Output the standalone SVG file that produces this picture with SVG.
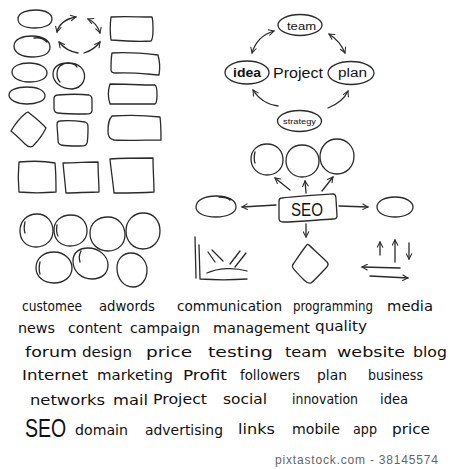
<svg xmlns="http://www.w3.org/2000/svg" width="450" height="469" viewBox="0 0 450 469">
<defs>
<style>
.s{fill:none;stroke:#2a2a2a;stroke-width:1.3;stroke-linecap:round;stroke-linejoin:round}
.w{font-family:"DejaVu Sans","Liberation Sans",sans-serif;font-size:14px;fill:#111}
.l{font-family:"Liberation Sans","DejaVu Sans",sans-serif;fill:#111}
.ft{font-family:"Liberation Sans","DejaVu Sans",sans-serif;font-size:12px;fill:#666}
</style>
<marker id="ah" viewBox="0 0 8 8" refX="7" refY="4" markerWidth="7" markerHeight="7" orient="auto-start-reverse" markerUnits="userSpaceOnUse">
<path d="M1,0.8 L7,4 L1,7.2" fill="none" stroke="#2a2a2a" stroke-width="1.2" stroke-linecap="round"/>
</marker>
</defs>
<rect width="450" height="469" fill="#fff"/>

<!-- left shapes -->
<g id="ellipse1"><path class="s" d="M18,19 C18,12 28,10 36,10 C46,10 52,14 52,19 C52,25 44,28 35,28 C25,28 18,25 18,19 Z"/></g>
<g id="ellipse2"><path class="s" d="M14,46 C14,39 23,36 32,36 C42,36 50,40 50,47 C50,54 42,57 32,57 C22,57 14,53 14,46 Z M34,38 C40,37 45,40 47,42"/></g>
<g id="ellipse3"><path class="s" d="M12,72 C12,66 20,63 29,63 C39,63 47,67 47,73 C47,79 39,82 29,82 C20,82 12,78 12,72 Z"/></g>
<g id="ellipse4"><path class="s" d="M9,95 C9,90 17,87 27,87 C37,87 45,90 45,96 C45,101 36,104 27,104 C17,104 9,100 9,95 Z"/></g>
<g id="diamond1"><path class="s" d="M28,112 C33,116 41,122 46,128 C43,134 38,141 33,146 C30,148 28,147 25,144 C20,139 15,134 11,131 C15,124 21,117 26,113 Z"/></g>
<g id="rect1"><path class="s" d="M19,162 C30,161 45,161 55,163 C56,172 56,183 56,192 C44,193 30,193 19,192 C18,182 18,172 19,162 Z"/></g>

<g id="circle-double"><path class="s" d="M60,66 C66,61 78,62 83,70 C87,78 83,88 72,89 C61,89 53,82 53,74 C53,67 59,63 67,63 C72,63 76,65 77,67 M60,66 C56,70 56,78 60,82"/></g>
<g id="roundrect1"><path class="s" d="M58,95 C70,94 80,94 89,95 C92,96 92,98 92,101 L92,111 C91,114 89,114 86,114 C76,114 66,114 58,113 C55,113 54,111 54,108 L54,99 C54,96 56,95 58,95 Z"/></g>
<g id="roundsq1"><path class="s" d="M60,121 C68,120 78,121 85,122 C88,123 88,125 88,128 C88,133 88,139 87,143 C86,146 84,146 80,146 C73,146 66,146 61,145 C58,144 58,142 58,139 L57,125 C57,122 58,121 60,121 Z"/></g>
<g id="quad1"><path class="s" d="M63,163 C75,163 88,162 98,162 C98,172 99,183 99,192 C88,192 76,193 66,193 C65,183 64,173 63,163 Z"/></g>

<g id="rect2"><path class="s" d="M111,17 C124,16 138,17 152,17 C153,20 153,25 153,30 C153,35 153,39 151,41 C138,42 124,41 111,40 C110,33 110,25 111,17 Z"/></g>
<g id="rect3"><path class="s" d="M112,53 C126,52 141,53 158,55 C160,62 160,69 159,75 C146,74 132,72 116,73 C112,73 111,72 111,70 C111,64 111,58 112,53 Z"/></g>
<g id="rect4"><path class="s" d="M110,84 C124,84 140,85 155,85 C157,86 157,90 157,95 C157,100 157,103 155,104 C141,104 125,104 110,104 C108,98 108,90 110,84 Z"/></g>
<g id="rect5"><path class="s" d="M112,116 C127,115 143,115 160,117 C161,124 161,132 161,140 C145,140 128,141 114,140 C109,139 108,136 108,132 C108,126 108,120 112,116 Z"/></g>
<g id="rect6"><path class="s" d="M110,159 C124,158 140,158 153,158 C153,170 154,181 154,192 C141,193 127,193 114,193 C113,182 111,170 110,159 Z"/></g>

<!-- bottom-left circles -->
<g id="circle-a"><path class="s" d="M20,231 C20,221 27,214 37,214 C47,214 53,222 53,231 C53,240 46,247 36,247 C26,247 20,240 20,231 Z M25,222 C24,226 24,230 25,233"/></g>
<g id="circle-b"><path class="s" d="M54,230 C54,221 61,215 71,215 C81,215 87,222 87,231 C87,240 80,246 70,246 C60,246 54,239 54,230 Z M57,225 C56,230 57,234 58,236"/></g>
<g id="circle-c"><path class="s" d="M90,233 C90,223 98,217 108,217 C119,217 125,226 125,235 C125,244 118,251 108,251 C97,251 90,243 90,233 Z"/></g>
<g id="circle-d"><path class="s" d="M126,231 C126,220 134,213 143,213 C154,213 160,221 160,231 C160,241 153,249 143,249 C133,249 126,241 126,231 Z"/></g>
<g id="circle-e"><path class="s" d="M36,268 C36,258 44,252 54,252 C65,252 72,260 72,268 C72,277 64,283 54,283 C43,283 36,276 36,268 Z M40,262 C39,266 39,271 40,274"/></g>
<g id="circle-f"><path class="s" d="M73,261 C73,252 80,248 88,248 C99,248 108,256 108,265 C108,274 101,279 92,279 C81,279 73,271 73,261 Z M81,251 C79,255 79,259 80,262"/></g>
<g id="circle-g"><path class="s" d="M117,268 C117,259 123,253 131,253 C140,253 147,261 147,270 C147,280 141,287 133,287 C124,287 117,279 117,268 Z"/></g>

<!-- project cycle nodes -->
<g id="team"><ellipse class="s" cx="300" cy="25" rx="22" ry="10.5"/><text class="l" x="287" y="29.5" font-size="10" textLength="29" lengthAdjust="spacingAndGlyphs">team</text></g>
<g id="idea"><ellipse class="s" cx="247" cy="72.5" rx="22" ry="11.5"/><text class="l" x="233" y="77" font-size="12" font-weight="bold" textLength="28" lengthAdjust="spacingAndGlyphs">idea</text></g>
<g id="project"><text class="l" x="273" y="78" font-size="14" textLength="50" lengthAdjust="spacingAndGlyphs">Project</text></g>
<g id="plan"><ellipse class="s" cx="351" cy="73" rx="23" ry="11.5"/><text class="l" x="338" y="77" font-size="12" textLength="29" lengthAdjust="spacingAndGlyphs">plan</text></g>
<g id="strategy"><ellipse class="s" cx="299.5" cy="121" rx="22" ry="10.5"/><text class="l" x="283" y="124" font-size="8" textLength="33" lengthAdjust="spacingAndGlyphs">strategy</text></g>

<!-- SEO map nodes -->
<g id="seo-circle1"><path class="s" d="M251,159 C251,150 258,144 267,144 C277,144 283,151 283,160 C283,169 276,175 267,175 C258,175 251,168 251,159 Z M255,152 C254,156 254,160 255,163"/></g>
<g id="seo-circle2"><path class="s" d="M286,161 C286,151 293,145 302,145 C312,145 319,152 319,161 C319,170 312,177 302,177 C293,177 286,170 286,161 Z"/></g>
<g id="seo-circle3"><path class="s" d="M320,157 C320,147 327,139 337,139 C347,139 354,147 354,156 C354,166 347,174 337,174 C327,174 320,166 320,157 Z"/></g>
<g id="seo"><path class="s" d="M282,198 C298,196 316,195 333,194 C335,194 336,196 336,199 L337,216 C337,218 336,219 333,219 C316,220 299,222 283,222 C280,222 279,220 279,218 L279,201 C279,199 280,198 282,198 Z"/><text class="l" x="291" y="216" font-size="19" textLength="32" lengthAdjust="spacingAndGlyphs">SEO</text></g>
<g id="seo-left"><path class="s" d="M196,207 C196,200 205,196 216,196 C228,196 236,200 236,207 C236,213 227,217 216,217 C204,217 196,213 196,207 Z M219,197 C224,197 228,198 230,200"/></g>
<g id="seo-right"><path class="s" d="M377,207 C377,201 385,197 395,197 C406,197 413,202 413,207 C413,213 405,217 395,217 C385,217 377,213 377,207 Z"/></g>
<g id="seo-diamond"><path class="s" d="M309,245 C314,250 321,256 327,262 C329,264 328,266 326,268 C321,273 316,279 311,283 C308,284 306,282 304,280 C299,275 295,271 293,268 C292,266 293,264 294,263 C298,257 302,251 306,246 C307,244 308,244 309,245 Z"/></g>
<g id="chart"><path class="s" d="M195,237 L196,278 M199,245 L200,279 M200,279 C215,280 232,280 247,279 M208,252 L215,262 M212,250 L223,261 M230,264 L240,251 M235,267 L246,253 M207,273 C218,268 234,267 247,271"/></g>

<!-- connectors -->
<g id="connectors">
<path class="s" d="M57,32 Q60,20 76,17" marker-start="url(#ah)" marker-end="url(#ah)"/>
<path class="s" d="M88,19 Q97,23 100,33" marker-start="url(#ah)" marker-end="url(#ah)"/>
<path class="s" d="M100,42 Q94,50 84,53" marker-start="url(#ah)"/>
<path class="s" d="M59,42 Q66,51 78,53" marker-start="url(#ah)"/>

<path class="s" d="M274,31 Q257,36 252,53" marker-start="url(#ah)" marker-end="url(#ah)"/>
<path class="s" d="M329,34 Q340,41 345,53" marker-start="url(#ah)" marker-end="url(#ah)"/>
<path class="s" d="M253,90 Q262,104 278,106" marker-start="url(#ah)"/>
<path class="s" d="M328,108 Q343,102 348,91" marker-end="url(#ah)"/>

<path class="s" d="M276,205 L242,207" marker-end="url(#ah)"/>
<path class="s" d="M290,190 L275,178" marker-end="url(#ah)" stroke-width="1.6"/>
<path class="s" d="M306,193 L305,181" marker-end="url(#ah)"/>
<path class="s" d="M322,191 L333,177" marker-end="url(#ah)"/>
<path class="s" d="M339,206 L368,207" marker-end="url(#ah)"/>
<path class="s" d="M306,224 L306,237" marker-end="url(#ah)"/>

<path class="s" d="M380,255 L380,242" marker-end="url(#ah)"/>
<path class="s" d="M395,262 L395,240" marker-end="url(#ah)"/>
<path class="s" d="M409,243 L409,259" marker-end="url(#ah)"/>
<path class="s" d="M400,268 L362,267" marker-end="url(#ah)"/>
<path class="s" d="M370,276 L408,278" marker-end="url(#ah)"/>
</g>

<!-- word cloud -->
<g id="words">
<text class="w" x="22" y="311" textLength="60" lengthAdjust="spacingAndGlyphs">customee</text>
<text class="w" x="99" y="311" textLength="56" lengthAdjust="spacingAndGlyphs">adwords</text>
<text class="w" x="177" y="311" textLength="105" lengthAdjust="spacingAndGlyphs">communication</text>
<text class="w" x="293" y="311" textLength="80" lengthAdjust="spacingAndGlyphs">programming</text>
<text class="w" x="387" y="311" textLength="46" lengthAdjust="spacingAndGlyphs">media</text>

<text class="w" x="18" y="333" textLength="37" lengthAdjust="spacingAndGlyphs">news</text>
<text class="w" x="68" y="333" textLength="54" lengthAdjust="spacingAndGlyphs">content</text>
<text class="w" x="130" y="333" textLength="70" lengthAdjust="spacingAndGlyphs">campaign</text>
<text class="w" x="213" y="333" textLength="97" lengthAdjust="spacingAndGlyphs">management</text>
<text class="w" x="315" y="331" textLength="52" lengthAdjust="spacingAndGlyphs">quality</text>

<text class="w" x="25" y="357" font-size="15" textLength="52" lengthAdjust="spacingAndGlyphs">forum</text>
<text class="w" x="82" y="357" font-size="15" textLength="50" lengthAdjust="spacingAndGlyphs">design</text>
<text class="w" x="146" y="357" font-size="15" textLength="46" lengthAdjust="spacingAndGlyphs">price</text>
<text class="w" x="208" y="357" font-size="15" textLength="65" lengthAdjust="spacingAndGlyphs">testing</text>
<text class="w" x="285" y="357" font-size="15" textLength="42" lengthAdjust="spacingAndGlyphs">team</text>
<text class="w" x="337" y="357" font-size="15" textLength="68" lengthAdjust="spacingAndGlyphs">website</text>
<text class="w" x="413" y="357" font-size="15" textLength="34" lengthAdjust="spacingAndGlyphs">blog</text>

<text class="w" x="22" y="380" font-size="15" textLength="66" lengthAdjust="spacingAndGlyphs">Internet</text>
<text class="w" x="97" y="380" font-size="15" textLength="76" lengthAdjust="spacingAndGlyphs">marketing</text>
<text class="w" x="183" y="380" font-size="15" textLength="44" lengthAdjust="spacingAndGlyphs">Profit</text>
<text class="w" x="240" y="380" textLength="60" lengthAdjust="spacingAndGlyphs">followers</text>
<text class="w" x="317" y="380" textLength="30" lengthAdjust="spacingAndGlyphs">plan</text>
<text class="w" x="368" y="380" textLength="55" lengthAdjust="spacingAndGlyphs">business</text>

<text class="w" x="30" y="405" font-size="15" textLength="75" lengthAdjust="spacingAndGlyphs">networks</text>
<text class="w" x="113" y="405" font-size="15" textLength="35" lengthAdjust="spacingAndGlyphs">mail</text>
<text class="w" x="153" y="404" textLength="54" lengthAdjust="spacingAndGlyphs">Project</text>
<text class="w" x="223" y="404" font-size="15" textLength="44" lengthAdjust="spacingAndGlyphs">social</text>
<text class="w" x="292" y="404" textLength="66" lengthAdjust="spacingAndGlyphs">innovation</text>
<text class="w" x="380" y="404" textLength="28" lengthAdjust="spacingAndGlyphs">idea</text>

<text class="l" transform="translate(25,437) scale(0.75,1)" x="0" y="0" font-size="26">SEO</text>
<text class="w" x="75" y="435" font-size="15" textLength="53" lengthAdjust="spacingAndGlyphs">domain</text>
<text class="w" x="145" y="435" font-size="15" textLength="78" lengthAdjust="spacingAndGlyphs">advertising</text>
<text class="w" x="238" y="434" font-size="17" textLength="37" lengthAdjust="spacingAndGlyphs">links</text>
<text class="w" x="292" y="434" textLength="48" lengthAdjust="spacingAndGlyphs">mobile</text>
<text class="w" x="353" y="434" font-size="15" textLength="24" lengthAdjust="spacingAndGlyphs">app</text>
<text class="w" x="392" y="434" font-size="15" textLength="38" lengthAdjust="spacingAndGlyphs">price</text>
</g>

<text class="ft" x="275" y="464" textLength="163" lengthAdjust="spacing">pixtastock.com - 38145574</text>
</svg>
